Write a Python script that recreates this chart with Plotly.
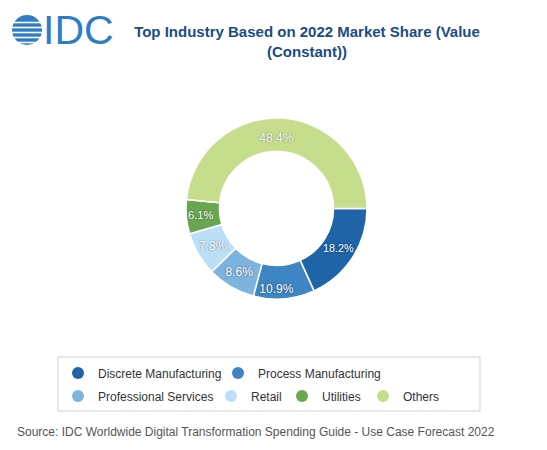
import plotly.graph_objects as go

W, H = 547, 450
OFF = 8  # default page body margin
FW, FH = W - 2 * OFF, H - 2 * OFF

categories = ["Discrete Manufacturing", "Process Manufacturing", "Professional Services",
              "Retail", "Utilities", "Others"]
shares = [18.2, 10.9, 8.6, 7.8, 6.1, 48.4]
colors = ["#1e64a6", "#3d85c3", "#7db3df", "#bcdff8", "#6aa650", "#c6de8c"]

title_text = "Top Industry Based on 2022 Market Share (Value<br>(Constant))"
source_text = "Source: IDC Worldwide Digital Transformation Spending Guide - Use Case Forecast 2022"


def px(x):
    return (x - OFF) / FW


def py(y):
    return 1 - (y - OFF) / FH


fig = go.Figure()

# donut
cx, cy, R = 276.5, 208.5, 90.5
fig.add_trace(go.Pie(
    labels=categories, values=shares, sort=False, direction="clockwise", rotation=90,
    hole=0.63,
    marker=dict(colors=colors, line=dict(color="white", width=1.5)),
    texttemplate="%{percent:.1%}", textposition="inside", insidetextorientation="horizontal",
    insidetextfont=dict(family="Arial", size=12, color="white",
                        shadow="0px 0px 2px rgba(0,0,0,0.55)"),
    domain=dict(x=[px(cx - R), px(cx + R)], y=[py(cy + R), py(cy - R)]),
    showlegend=False, hoverinfo="label+percent",
))

# legend entries with circle markers, each in its own legend for exact placement
legend_pos = [(79, 373), (239, 373), (79, 396), (232, 396), (303, 396), (384, 396)]
layout_legends = {}
for i, (cat, col) in enumerate(zip(categories, colors)):
    name = "legend" if i == 0 else f"legend{i + 1}"
    fig.add_trace(go.Scatter(
        x=[None], y=[None], mode="markers", name=cat,
        marker=dict(color=col, size=12, symbol="circle"),
        legend=name, showlegend=True,
    ))
    lx, ly = legend_pos[i]
    layout_legends[name] = dict(
        x=px(lx - 21), y=py(ly), xanchor="left", yanchor="middle",
        orientation="h", bgcolor="rgba(0,0,0,0)", borderwidth=0,
        font=dict(family="Arial", size=12, color="#333333"),
    )

fig.update_layout(
    width=FW, height=FH,
    margin=dict(l=0, r=0, t=0, b=0),
    paper_bgcolor="white", plot_bgcolor="white",
    xaxis=dict(visible=False), yaxis=dict(visible=False),
    title=dict(text=title_text, x=px(307), xanchor="center", y=py(37), yanchor="middle",
               font=dict(family="Arial", size=15, color="#1b4c82", weight="bold")),
    **layout_legends,
)

# legend frame
fig.add_shape(type="rect", xref="paper", yref="paper",
              x0=px(58), x1=px(480), y0=py(411), y1=py(357),
              line=dict(color="#d0d0d0", width=1), fillcolor="rgba(0,0,0,0)", layer="below")

# IDC logo: striped globe + letters
gx, gy, gr = 27, 30, 15
fig.add_shape(type="circle", xref="paper", yref="paper",
              x0=px(gx - gr), x1=px(gx + gr), y0=py(gy + gr), y1=py(gy - gr),
              fillcolor="#2f7cc6", line=dict(width=0))
for dy in (-10, -5, 0, 5, 10):
    fig.add_shape(type="line", xref="paper", yref="paper",
                  x0=px(gx - gr - 1), x1=px(gx + gr + 1), y0=py(gy + dy + 2.5), y1=py(gy + dy + 2.5),
                  line=dict(color="white", width=1.6))
fig.add_annotation(text="IDC", xref="paper", yref="paper", x=px(41), y=py(30),
                   xanchor="left", yanchor="middle", showarrow=False,
                   font=dict(family="Arial", size=41, color="#2f7cc6"))

fig.add_annotation(text=source_text, xref="paper", yref="paper", x=px(15), y=py(432),
                   xanchor="left", yanchor="middle", showarrow=False,
                   font=dict(family="Arial", size=12, color="#555555"))

fig.write_html("out.html")
